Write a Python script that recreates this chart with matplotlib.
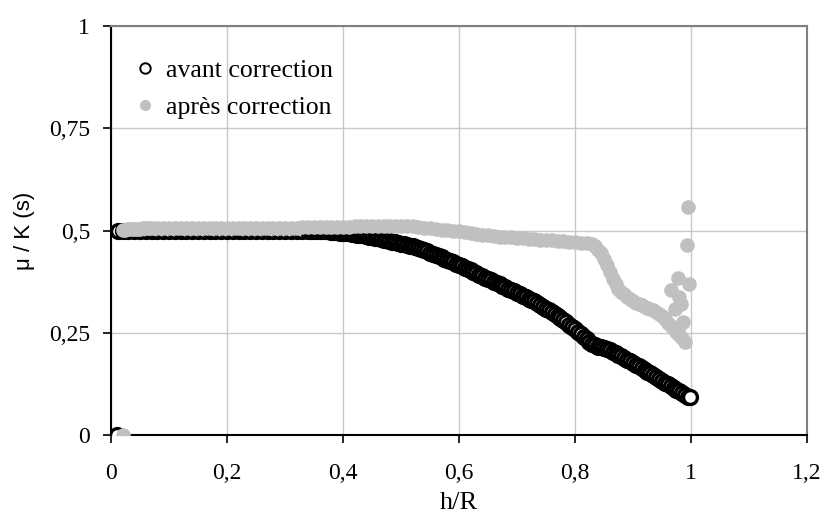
import numpy as np
import matplotlib
matplotlib.use("Agg")
import matplotlib.pyplot as plt
from matplotlib.ticker import FuncFormatter, MultipleLocator

# avant correction (cercles noirs)
h_avant = [0.012, 0.02, 0.03, 0.04, 0.05, 0.06, 0.07, 0.08, 0.09, 0.10,
           0.11, 0.12, 0.13, 0.14, 0.15, 0.16, 0.17, 0.18, 0.19, 0.20,
           0.21, 0.22, 0.23, 0.24, 0.25, 0.26, 0.27, 0.28, 0.29, 0.30,
           0.31, 0.32, 0.33, 0.34, 0.345,
           0.350, 0.355, 0.360, 0.365, 0.370, 0.375, 0.380, 0.385, 0.390, 0.395,
           0.400, 0.405, 0.410, 0.415, 0.420, 0.425, 0.430, 0.435, 0.440, 0.445,
           0.450, 0.455, 0.460, 0.465, 0.470, 0.475, 0.480, 0.485, 0.490, 0.495,
           0.500, 0.505, 0.510, 0.515, 0.520, 0.525, 0.530, 0.535, 0.540, 0.545,
           0.550, 0.555, 0.560, 0.565, 0.570, 0.575, 0.580, 0.585, 0.590, 0.595,
           0.600, 0.605, 0.610, 0.615, 0.620, 0.625, 0.630, 0.635, 0.640, 0.645,
           0.650, 0.655, 0.660, 0.665, 0.670, 0.675, 0.680, 0.685, 0.690, 0.695,
           0.700, 0.705, 0.710, 0.715, 0.720, 0.725, 0.730, 0.735, 0.740, 0.745,
           0.750, 0.755, 0.760, 0.765, 0.770, 0.775, 0.780, 0.785, 0.790, 0.795,
           0.800, 0.805, 0.810, 0.815, 0.820, 0.825, 0.830, 0.835, 0.840, 0.845,
           0.850, 0.855, 0.860, 0.865, 0.870, 0.875, 0.880, 0.885, 0.890, 0.895,
           0.900, 0.905, 0.910, 0.915, 0.920, 0.925, 0.930, 0.935, 0.940, 0.945,
           0.950, 0.955, 0.960, 0.965, 0.970, 0.975, 0.980, 0.985, 0.990, 0.995,
           0.998, 0.010]
mu_avant = [0.500, 0.500, 0.500, 0.500, 0.500, 0.500, 0.500, 0.500, 0.500, 0.500,
            0.500, 0.500, 0.500, 0.500, 0.500, 0.500, 0.500, 0.500, 0.500, 0.500,
            0.500, 0.500, 0.500, 0.500, 0.500, 0.500, 0.500, 0.500, 0.500, 0.500,
            0.500, 0.500, 0.500, 0.500, 0.500,
            0.500, 0.500, 0.499, 0.499, 0.498, 0.498, 0.497, 0.497, 0.496, 0.495,
            0.495, 0.494, 0.493, 0.492, 0.491, 0.490, 0.489, 0.488, 0.487, 0.485,
            0.484, 0.482, 0.481, 0.480, 0.478, 0.476, 0.475, 0.473, 0.471, 0.470,
            0.468, 0.466, 0.465, 0.463, 0.462, 0.460, 0.457, 0.455, 0.452, 0.449,
            0.446, 0.443, 0.440, 0.437, 0.434, 0.431, 0.428, 0.425, 0.422, 0.419,
            0.416, 0.413, 0.409, 0.406, 0.403, 0.399, 0.396, 0.392, 0.389, 0.385,
            0.382, 0.378, 0.375, 0.372, 0.368, 0.365, 0.361, 0.358, 0.354, 0.351,
            0.347, 0.344, 0.340, 0.337, 0.333, 0.330, 0.327, 0.322, 0.318, 0.313,
            0.309, 0.305, 0.300, 0.296, 0.291, 0.287, 0.282, 0.276, 0.270, 0.264,
            0.258, 0.252, 0.246, 0.240, 0.234, 0.228, 0.223, 0.219, 0.216, 0.214,
            0.212, 0.210, 0.208, 0.204, 0.200, 0.196, 0.192, 0.188, 0.184, 0.180,
            0.176, 0.172, 0.168, 0.164, 0.160, 0.155, 0.151, 0.146, 0.142, 0.137,
            0.133, 0.128, 0.124, 0.120, 0.115, 0.111, 0.107, 0.103, 0.098, 0.094,
            0.092, 0.000]

# après correction (points gris)
h_apres = [0.02, 0.025, 0.03, 0.035, 0.04, 0.045, 0.05, 0.055, 0.06, 0.065, 0.07,
           0.08, 0.09, 0.10, 0.11, 0.12, 0.13, 0.14, 0.15, 0.16, 0.17, 0.18, 0.19,
           0.20, 0.21, 0.22, 0.23, 0.24, 0.25, 0.26, 0.27, 0.28, 0.29, 0.30,
           0.31, 0.32, 0.33, 0.34, 0.35, 0.36, 0.37, 0.38, 0.39, 0.40,
           0.41, 0.42, 0.43, 0.44, 0.45, 0.46, 0.47, 0.48, 0.49, 0.50,
           0.51, 0.52, 0.53, 0.54, 0.55, 0.56, 0.57, 0.58, 0.59, 0.60,
           0.61, 0.62, 0.63, 0.64, 0.65, 0.66, 0.67, 0.68, 0.69, 0.70,
           0.71, 0.72, 0.73, 0.74, 0.75, 0.76, 0.77, 0.78, 0.79, 0.80,
           0.81, 0.82, 0.83, 0.835, 0.840, 0.845, 0.850, 0.855, 0.860, 0.865,
           0.870, 0.875, 0.880, 0.885, 0.890, 0.895, 0.900, 0.905, 0.910, 0.915,
           0.920, 0.925, 0.930, 0.935, 0.940, 0.945, 0.950, 0.955, 0.960, 0.965,
           0.970, 0.975, 0.980, 0.985, 0.990,
           0.993, 0.995, 0.978, 0.996, 0.966, 0.980, 0.983, 0.972, 0.986, 0.978,
           0.020]
mu_apres = [0.502, 0.502, 0.503, 0.503, 0.504, 0.504, 0.504, 0.505, 0.505, 0.505, 0.505,
            0.506, 0.506, 0.506, 0.506, 0.506, 0.506, 0.506, 0.506, 0.506, 0.506, 0.506, 0.506,
            0.507, 0.507, 0.507, 0.507, 0.507, 0.507, 0.507, 0.507, 0.507, 0.507, 0.507,
            0.507, 0.507, 0.508, 0.508, 0.508, 0.508, 0.508, 0.508, 0.509, 0.509,
            0.509, 0.510, 0.510, 0.510, 0.511, 0.512, 0.512, 0.512, 0.511, 0.511,
            0.510, 0.510, 0.509, 0.507, 0.505, 0.504, 0.502, 0.501, 0.499, 0.498,
            0.496, 0.494, 0.492, 0.490, 0.488, 0.486, 0.485, 0.484, 0.483, 0.482,
            0.481, 0.480, 0.479, 0.478, 0.477, 0.476, 0.475, 0.474, 0.472, 0.471,
            0.470, 0.470, 0.468, 0.462, 0.453, 0.444, 0.430, 0.416, 0.398, 0.382,
            0.368, 0.358, 0.350, 0.345, 0.338, 0.332, 0.327, 0.323, 0.320, 0.317,
            0.314, 0.311, 0.309, 0.306, 0.301, 0.297, 0.292, 0.283, 0.273, 0.266,
            0.260, 0.252, 0.245, 0.237, 0.228,
            0.465, 0.558, 0.383, 0.370, 0.354, 0.338, 0.321, 0.309, 0.276, 0.260,
            0.000]

serif = "Liberation Serif"

fig = plt.figure(figsize=(8.21, 5.17), dpi=100)
ax = fig.add_axes([0.1352, 0.1586, 0.8477, 0.7911])

ax.plot(h_avant, mu_avant, linestyle="none", marker="o", markersize=10,
        markerfacecolor="white", markeredgecolor="black", markeredgewidth=2.4,
        label="avant correction", zorder=3)
ax.plot(h_apres, mu_apres, linestyle="none", marker="o", markersize=10.5,
        markerfacecolor="#c0c0c0", markeredgecolor="#c0c0c0", markeredgewidth=0,
        label="après correction", zorder=4)

ax.set_xlim(0, 1.2)
ax.set_ylim(0, 1)
ax.xaxis.set_major_locator(MultipleLocator(0.2))
ax.yaxis.set_major_locator(MultipleLocator(0.25))
virgule = FuncFormatter(lambda v, p: ("%g" % round(v, 2)).replace(".", ","))
ax.xaxis.set_major_formatter(virgule)
ax.yaxis.set_major_formatter(virgule)

ax.grid(True, color="#c8c8c8", linewidth=1.0)
ax.set_axisbelow(True)
for s in ["left", "bottom"]:
    ax.spines[s].set_color("black")
    ax.spines[s].set_linewidth(1.5)
for s in ["top", "right"]:
    ax.spines[s].set_color("#808080")
    ax.spines[s].set_linewidth(1.5)

ax.tick_params(direction="out", length=6, width=1.2, color="black")
ax.tick_params(axis="y", pad=9)
ax.tick_params(axis="x", pad=14)
for lab in ax.get_xticklabels() + ax.get_yticklabels():
    lab.set_fontfamily(serif)
    lab.set_fontsize(17)

ax.set_xlabel("h/R", fontfamily=serif, fontsize=19, labelpad=6)
ax.set_ylabel("μ / K (s)", fontfamily="Liberation Sans", fontsize=16, labelpad=10)

leg = ax.legend(loc="upper left", bbox_to_anchor=(0.016, 0.945), borderaxespad=0,
                frameon=False, prop={"family": serif, "size": 18.5},
                handlelength=1.0, handletextpad=0.3, labelspacing=0.55)
# marqueurs de la légende un peu plus fins
leg.legend_handles[0].set_markersize(7.5)
leg.legend_handles[0].set_markeredgewidth(1.4)
leg.legend_handles[1].set_markersize(8)

fig.savefig("out.png", dpi=100)
